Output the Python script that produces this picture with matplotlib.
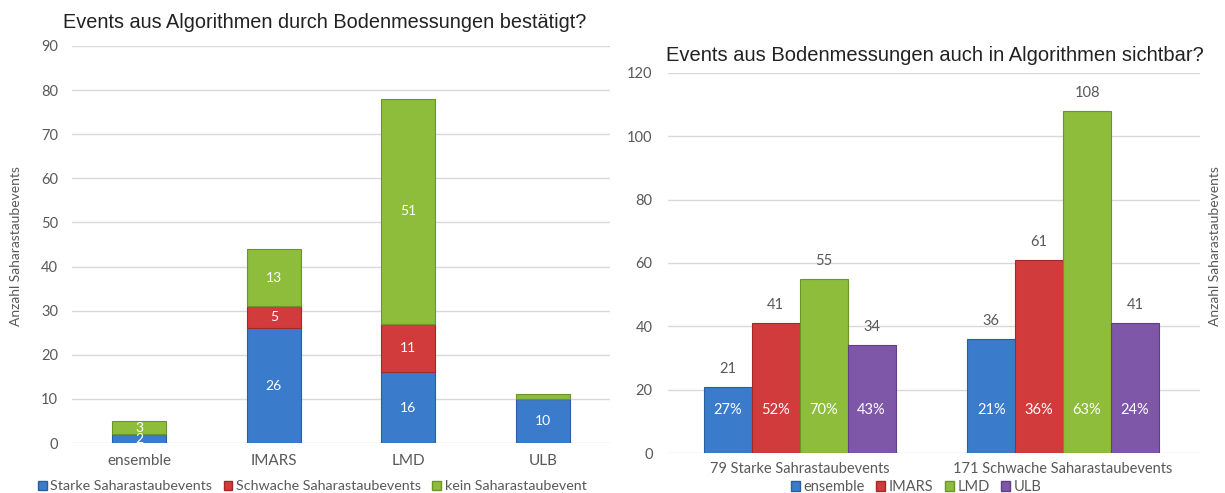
import matplotlib
matplotlib.use("Agg")
import matplotlib.pyplot as plt
import numpy as np
from matplotlib.patches import Patch

# ---- data ----
left_categories = ["ensemble", "IMARS", "LMD", "ULB"]
left_series = ["Starke Saharastaubevents", "Schwache Saharastaubevents", "kein Saharastaubevent"]
left_strong = [2, 26, 16, 10]
left_weak = [0, 5, 11, 0]
left_none = [3, 13, 51, 1]
left_show_label_none = [True, True, True, False]

right_categories = ["79 Starke Sahrastaubevents", "171 Schwache Saharastaubevents"]
right_series = ["ensemble", "IMARS", "LMD", "ULB"]
right_values = {
    "ensemble": [21, 36],
    "IMARS": [41, 61],
    "LMD": [55, 108],
    "ULB": [34, 41],
}
right_percent = {
    "ensemble": ["27%", "21%"],
    "IMARS": ["52%", "36%"],
    "LMD": ["70%", "63%"],
    "ULB": ["43%", "24%"],
}

BLUE = "#3b7bcb"
RED = "#d13b3b"
GREEN = "#8dbd3a"
PURPLE = "#7f57a9"
EDGE = {BLUE: "#2a5e9e", RED: "#a02a2a", GREEN: "#6d9428", PURPLE: "#5f3f85"}

TICKFONT = "Lato"
TITLEFONT = "Liberation Sans"
GRID = "#d9d9d9"
TXT = "#595959"

fig = plt.figure(figsize=(12.25, 4.93), dpi=100)

# ---------- left chart ----------
ax1 = fig.add_axes([0.0588, 0.1014, 0.4392, 0.8053])
x = np.arange(len(left_categories))
w = 0.4
colors_l = [BLUE, RED, GREEN]
bottoms = np.zeros(len(x))
series_vals = [left_strong, left_weak, left_none]
for si, vals in enumerate(series_vals):
    vals = np.array(vals, dtype=float)
    c = colors_l[si]
    ax1.bar(x, vals, w, bottom=bottoms, color=c, edgecolor=EDGE[c], linewidth=0.8, zorder=3)
    for i, v in enumerate(vals):
        if v <= 0:
            continue
        if si == 2 and not left_show_label_none[i]:
            continue
        ax1.text(x[i], bottoms[i] + v / 2, f"{int(v)}", ha="center", va="center",
                 color="white", fontsize=10, family=TICKFONT, zorder=4)
    bottoms += vals
ax1.set_xlim(-0.5, len(x) - 0.5)
ax1.set_ylim(0, 90)
ax1.set_yticks(np.arange(0, 91, 10))
ax1.yaxis.grid(True, color=GRID, linewidth=1, zorder=0)
ax1.set_axisbelow(True)
for s in ax1.spines.values():
    s.set_visible(False)
ax1.tick_params(axis="both", length=0, colors=TXT, labelsize=10.5)
ax1.set_xticks(x)
ax1.set_xticklabels(left_categories, family=TICKFONT, fontsize=11, color=TXT)
for lab in ax1.get_yticklabels():
    lab.set_family(TICKFONT)
ax1.tick_params(axis="x", pad=8)
ax1.tick_params(axis="y", pad=10)
fig.text(0.013, 0.5, "Anzahl Saharastaubevents", rotation=90, ha="center", va="center",
         family=TICKFONT, fontsize=10, color=TXT)
fig.text(0.265, 0.955, "Events aus Algorithmen durch Bodenmessungen bestätigt?",
         ha="center", va="center", family=TITLEFONT, fontsize=14.3, color="#222222")
handles_l = [Patch(facecolor=c, edgecolor=EDGE[c]) for c in colors_l]
fig.legend(handles_l, left_series, loc="center", bbox_to_anchor=(0.255, 0.014),
           ncol=3, frameon=False, handlelength=0.6, handleheight=0.6, handletextpad=0.25,
           columnspacing=0.8, prop={"family": TICKFONT, "size": 10.3}, labelcolor=TXT)

# ---------- right chart ----------
ax2 = fig.add_axes([0.5453, 0.0805, 0.4343, 0.7722])
xr = np.arange(len(right_categories))
bw = 0.182
colors_r = [BLUE, RED, GREEN, PURPLE]
for si, name in enumerate(right_series):
    c = colors_r[si]
    offs = (si - 1.5) * bw
    vals = right_values[name]
    ax2.bar(xr + offs, vals, bw, color=c, edgecolor=EDGE[c], linewidth=0.8, zorder=3)
    for i, v in enumerate(vals):
        ax2.text(xr[i] + offs, v + 3.5, f"{v}", ha="center", va="bottom",
                 color=TXT, fontsize=10.5, family=TICKFONT, zorder=4)
        ax2.text(xr[i] + offs, 13.7, right_percent[name][i], ha="center", va="center",
                 color="white", fontsize=10.5, family=TICKFONT, zorder=4)
ax2.set_xlim(-0.5, 1.52)
ax2.set_ylim(0, 120)
ax2.set_yticks(np.arange(0, 121, 20))
ax2.yaxis.grid(True, color=GRID, linewidth=1, zorder=0)
ax2.set_axisbelow(True)
for s in ax2.spines.values():
    s.set_visible(False)
ax2.tick_params(axis="both", length=0, colors=TXT, labelsize=10.5)
ax2.set_xticks(xr)
ax2.set_xticklabels(right_categories, family=TICKFONT, fontsize=10.5, color=TXT)
for lab in ax2.get_yticklabels():
    lab.set_family(TICKFONT)
ax2.tick_params(axis="x", pad=6)
ax2.tick_params(axis="y", pad=11)
fig.text(0.992, 0.5, "Anzahl Saharastaubevents", rotation=90, ha="center", va="center",
         family=TICKFONT, fontsize=10, color=TXT)
fig.text(0.763, 0.888, "Events aus Bodenmessungen auch in Algorithmen sichtbar?",
         ha="center", va="center", family=TITLEFONT, fontsize=14.5, color="#222222")
handles_r = [Patch(facecolor=c, edgecolor=EDGE[c]) for c in colors_r]
fig.legend(handles_r, right_series, loc="center", bbox_to_anchor=(0.748, 0.012),
           ncol=4, frameon=False, handlelength=0.6, handleheight=0.6, handletextpad=0.25,
           columnspacing=0.8, prop={"family": TICKFONT, "size": 10.5}, labelcolor=TXT)

fig.savefig("out.png", dpi=100)
